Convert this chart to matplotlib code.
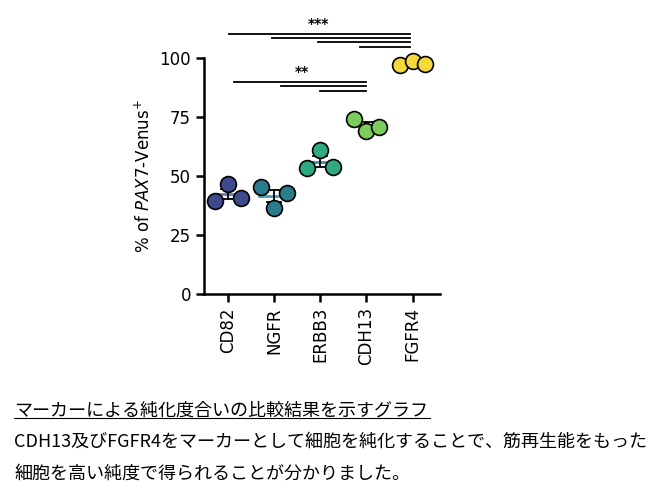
import matplotlib.pyplot as plt
import numpy as np

markers = ['CD82', 'NGFR', 'ERBB3', 'CDH13', 'FGFR4']
vals = [[39.4, 46.6, 40.7], [45.3, 36.4, 42.8], [53.4, 61.0, 53.8],
        [74.0, 69.0, 70.8], [97.0, 98.7, 97.5]]
colors = ['#3d4b8c', '#2b7c8a', '#2fa982', '#7ccd5e', '#f5d93b']
meanColors = ['#6a78b8', '#4aa0ae', '#3b8fa0', '#8ed860', '#f5d93b']
offs = [-0.28, 0.0, 0.28]

# significance bars: (start index, end index, y)
starBars = [(0.06, 4, 110.2), (1.0, 4, 108.5), (2.0, 4, 106.8), (2.9, 4, 104.7)]
dstarBars = [(0.13, 3, 89.8), (1.15, 3, 88.1), (2.0, 3, 86.0)]

fig = plt.figure(figsize=(6.67, 4.99), dpi=100)
ax = fig.add_axes([0.306, 0.411, 0.354, 0.473])

for i, v in enumerate(vals):
    v = np.array(v)
    m = v.mean()
    se = v.std(ddof=1) / np.sqrt(len(v))
    ax.plot([i - 0.33, i + 0.33], [m, m], color=meanColors[i], lw=2, zorder=2)
    ax.plot([i, i], [m - se, m + se], color='black', lw=1.3, zorder=2)
    for s in (m - se, m + se):
        ax.plot([i - 0.15, i + 0.15], [s, s], color='black', lw=1.3, zorder=2)
    ax.scatter(i + np.array(offs), v, s=130, color=colors[i], edgecolor='black', lw=1.2, zorder=3, clip_on=False)

for a, b, y in starBars:
    ax.plot([a - 0.05, b - 0.05], [y, y], color='black', lw=1.3, clip_on=False)
for a, b, y in dstarBars:
    ax.plot([a, b], [y, y], color='black', lw=1.3, clip_on=False)
ax.text(1.95, 111.3, '***', ha='center', va='bottom', fontsize=10, fontweight='bold')
ax.text(1.6, 91.0, '**', ha='center', va='bottom', fontsize=10, fontweight='bold')

ax.set_xlim(-0.52, 4.6)
ax.set_ylim(0, 100)
ax.set_yticks([0, 25, 50, 75, 100])
ax.set_xticks(range(5))
ax.set_xticklabels(markers, rotation=90, fontsize=12)
ax.tick_params(axis='both', labelsize=12, width=1.8, length=6)
ax.set_ylabel('% of $\\it{PAX7}$-Venus$^{+}$', fontsize=12)
for s in ('top', 'right'):
    ax.spines[s].set_visible(False)
for s in ('left', 'bottom'):
    ax.spines[s].set_linewidth(1.8)

jp = 'Noto Sans CJK JP'
fig.text(0.021, 0.168, 'マーカーによる純化度合いの比較結果を示すグラフ', fontsize=13, family=jp)
fig.add_artist(plt.Line2D([0.021, 0.645], [0.162, 0.162], color='black', lw=0.8))
fig.text(0.021, 0.104, 'CDH13及びFGFR4をマーカーとして細胞を純化することで、筋再生能をもった', fontsize=13, family=jp)
fig.text(0.021, 0.041, '細胞を高い純度で得られることが分かりました。', fontsize=13, family=jp)

fig.savefig('out.png', dpi=100)
